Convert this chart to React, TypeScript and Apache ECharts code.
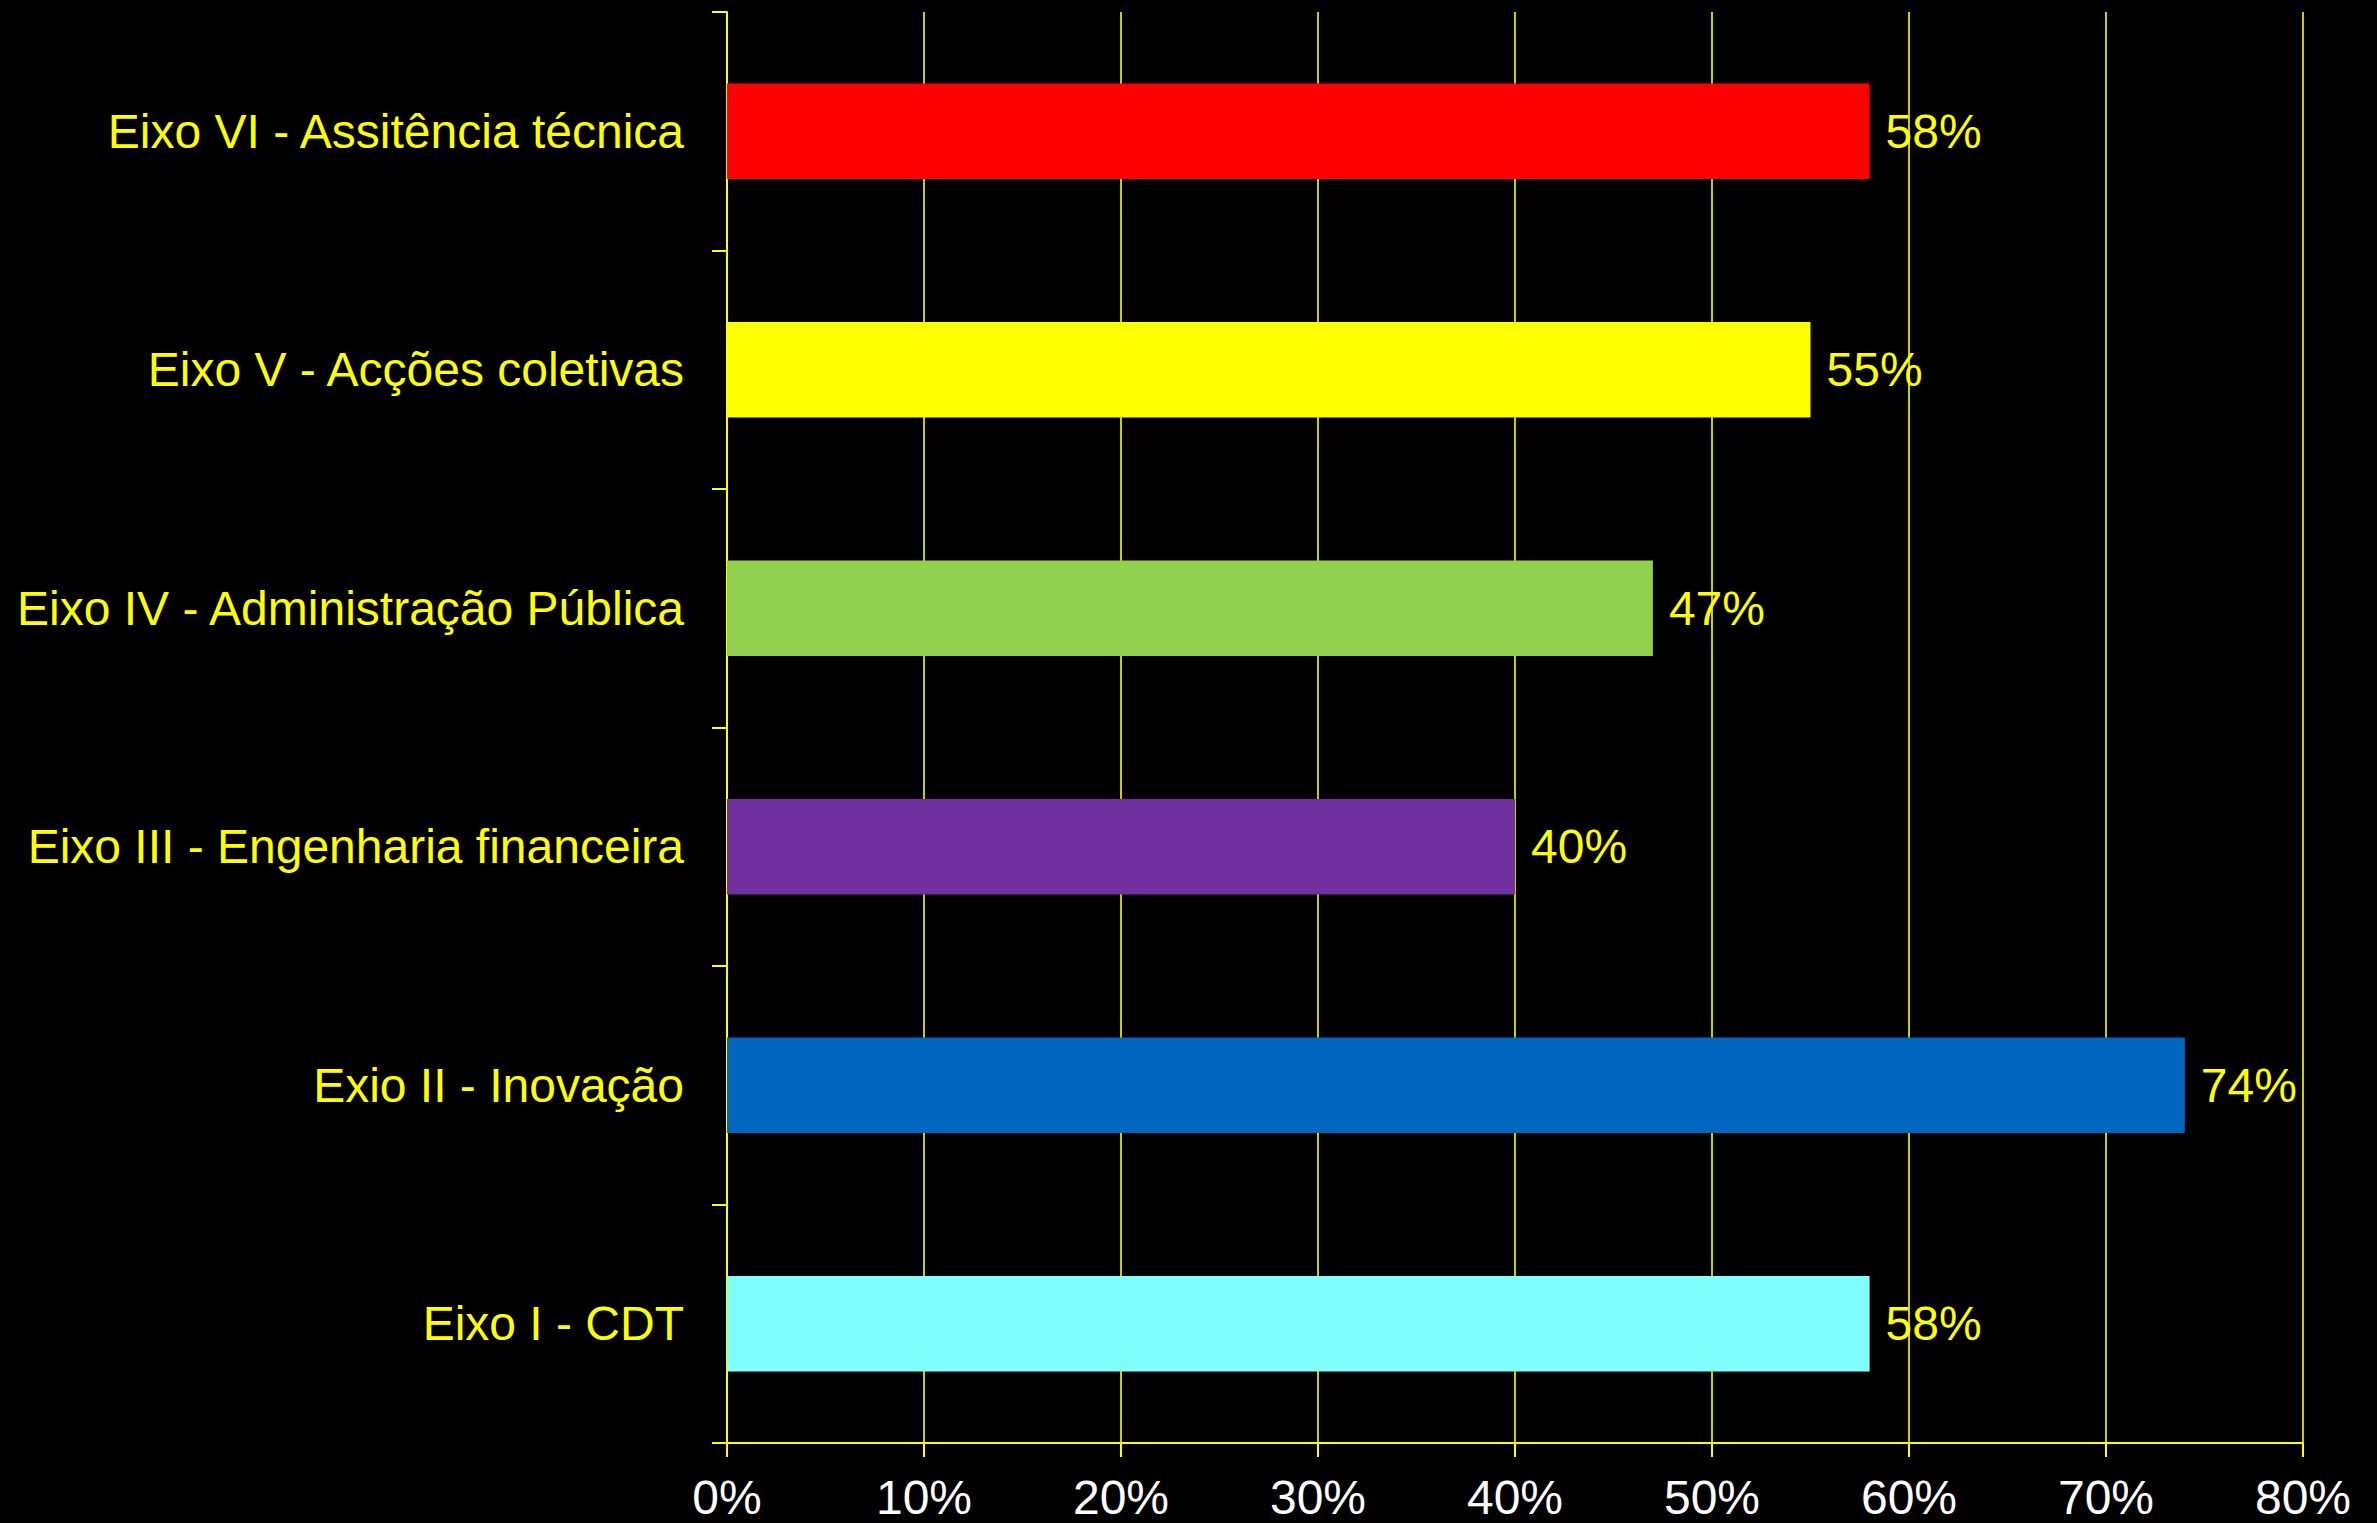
import React, { useEffect, useRef } from "react";
import * as echarts from "echarts";

const categories = [
  "Eixo I - CDT",
  "Exio II - Inovação",
  "Eixo III - Engenharia financeira",
  "Eixo IV - Administração Pública",
  "Eixo V - Acções coletivas",
  "Eixo VI - Assitência técnica",
];
const values = [58, 74, 40, 47, 55, 58];
const barColors = ["#80FFFF", "#0066C0", "#7030A0", "#92D050", "#FFFF00", "#FF0000"];
const xTicks = [0, 10, 20, 30, 40, 50, 60, 70, 80];

export default function App() {
  const ref = useRef<HTMLDivElement>(null);
  useEffect(() => {
    document.body.style.margin = "0";
    document.body.style.background = "#000";
    const chart = echarts.init(ref.current!, null, { renderer: "svg" });
    chart.setOption({
      animation: false,
      backgroundColor: "#000000",
      grid: { left: 727, right: 74, top: 12, bottom: 80, containLabel: false },
      xAxis: {
        type: "value",
        min: xTicks[0],
        max: xTicks[xTicks.length - 1],
        interval: 10,
        axisLine: { show: true, lineStyle: { color: "#FFFF00", width: 2 } },
        axisTick: { show: true, length: 14, lineStyle: { color: "#FFFF00", width: 2 } },
        splitLine: { show: true, lineStyle: { color: "#CCCC00", width: 2 } },
        axisLabel: {
          color: "#FFFFFF",
          fontSize: 48,
          fontFamily: "Liberation Sans, Arial, sans-serif",
          margin: 30,
          formatter: (v: number) => v + "%",
        },
      },
      yAxis: {
        type: "category",
        data: categories,
        axisLine: { show: true, lineStyle: { color: "#FFFF00", width: 2 } },
        axisTick: { show: true, length: 15, alignWithLabel: false, lineStyle: { color: "#FFFF00", width: 2 } },
        splitLine: { show: false },
        axisLabel: {
          color: "#FFFF00",
          fontSize: 48,
          fontFamily: "Liberation Sans, Arial, sans-serif",
          margin: 43,
        },
      },
      series: [
        {
          type: "bar",
          data: values.map((v, i) => ({ value: v, itemStyle: { color: barColors[i] } })),
          barCategoryGap: "60%",
          label: {
            show: true,
            position: "right",
            distance: 16,
            color: "#FFFF00",
            fontSize: 48,
            fontFamily: "Liberation Sans, Arial, sans-serif",
            formatter: (p: any) => p.value + "%",
          },
        },
      ],
    });
    return () => chart.dispose();
  }, []);
  return <div ref={ref} style={{ width: 2377, height: 1523, background: "#000" }} />;
}
